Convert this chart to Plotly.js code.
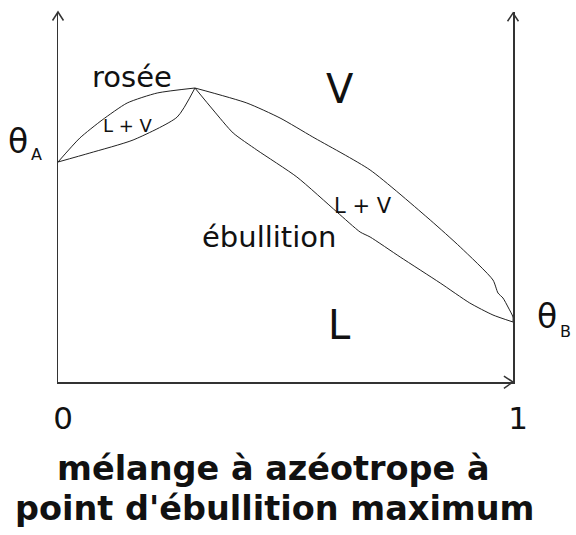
<!DOCTYPE html>
<html>
<head>
<meta charset="utf-8">
<script src="https://cdn.plot.ly/plotly-3.0.1.min.js"></script>
<style>html,body{margin:0;padding:0;background:#fff;}#chart{width:576px;height:535px;}</style>
</head>
<body>
<div id="chart"></div>
<script>
// composition (fraction of B) and temperature (arbitrary units)
const roseeX = [0, 0.048, 0.097, 0.152, 0.218, 0.301, 0.415, 0.488, 0.560, 0.686, 0.818, 0.884, 0.956, 0.967, 0.978, 0.989, 1, 1];
const roseeT = [220, 244, 262, 279, 289, 294, 279, 264, 245, 212, 162, 135, 102, 89, 84, 75, 65, 60];
const ebullX = [0, 0.070, 0.165, 0.262, 0.301, 0.341, 0.385, 0.437, 0.525, 0.613, 0.664, 0.686, 0.752, 0.840, 0.905, 0.956, 1];
const ebullT = [220, 229, 242, 265, 294, 272, 249, 232, 205, 170, 150, 145, 125, 99, 79, 67, 60];
const tickVals = [0, 1];
const tickText = ['0', '1'];

const F = 'DejaVu Sans';
const ink = '#111';
const curve = {color: '#222', width: 1, shape: 'spline', smoothing: 0.6};

// split each curve at the azeotrope (maximum) so the cusp stays sharp
function branches(xs, ys) {
  let k = 0;
  ys.forEach((v, i) => { if (v > ys[k]) k = i; });
  return [[xs.slice(0, k + 1), ys.slice(0, k + 1)], [xs.slice(k), ys.slice(k)]];
}
const traces = [];
[[roseeX, roseeT], [ebullX, ebullT]].forEach(([xs, ys]) => {
  branches(xs, ys).forEach(([bx, by]) => {
    traces.push({x: bx, y: by, type: 'scatter', mode: 'lines', line: curve, hoverinfo: 'skip', cliponaxis: false});
  });
});

function ann(text, x, y, size, bold) {
  return {text: bold ? '<b>' + text + '</b>' : text, x: x, y: y / 370, xref: 'paper', yref: 'paper',
    showarrow: false, xanchor: 'center', yanchor: 'middle',
    font: {family: F, size: size, color: ink}};
}

const annotations = [
  ann('rosée', 0.163, 305, 29),
  ann('L + V', 0.153, 256, 18),
  ann('V', 0.620, 293, 40),
  ann('L + V', 0.671, 176, 21),
  ann('ébullition', 0.464, 145, 29),
  ann('L', 0.618, 57, 40),
  ann('θ', -0.087, 241, 33),
  ann('A', -0.047, 228, 16),
  ann('θ', 1.075, 66, 33),
  ann('B', 1.115, 51, 16),
  ann('mélange à azéotrope à', 0.473, -86.4, 33.5, true),
  ann("point d'ébullition maximum", 0.476, -126.4, 33.5, true)
];

const axisLine = {color: '#333', width: 1.5};
const shapes = [
  {type: 'path', xref: 'paper', yref: 'paper', path: 'M -0.012 0.977 L 0 1 L 0.012 0.977', line: axisLine},
  {type: 'path', xref: 'paper', yref: 'paper', path: 'M 0.988 0.975 L 1 0.997 L 1.012 0.975', line: axisLine},
  {type: 'path', xref: 'paper', yref: 'paper', path: 'M 0.980 0.016 L 1 0 L 0.980 -0.017', line: axisLine}
];

const layout = {
  width: 576, height: 535,
  margin: {l: 58, r: 63, t: 12, b: 153, pad: 0},
  paper_bgcolor: '#fff', plot_bgcolor: '#fff',
  showlegend: false,
  xaxis: {range: [0, 1], showgrid: false, zeroline: false, showline: true,
    linecolor: '#333', linewidth: 1.5, ticks: '', tickvals: tickVals, ticktext: tickText,
    tickfont: {family: F, size: 31, color: ink}, ticklabelstandoff: 8, ticklabelshift: 5, fixedrange: true},
  yaxis: {range: [0, 370], showgrid: false, zeroline: false, showline: true, mirror: true,
    linecolor: '#333', linewidth: 1.5, ticks: '', showticklabels: false, fixedrange: true},
  annotations: annotations,
  shapes: shapes
};

Plotly.newPlot('chart', traces, layout, {staticPlot: true, displayModeBar: false});
</script>
</body>
</html>
